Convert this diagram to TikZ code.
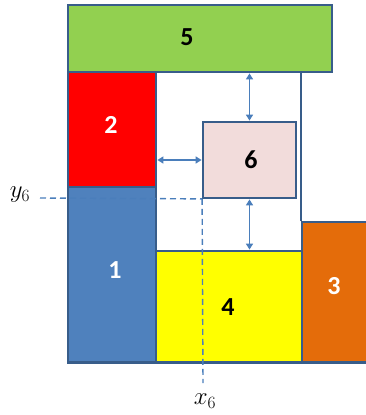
\documentclass[tikz,border=0pt]{standalone}
\usepackage{fontspec}
\newfontfamily\calib{Carlito}
\usetikzlibrary{arrows.meta}
\definecolor{cgreen}{HTML}{92D050}
\definecolor{cred}{HTML}{FF0000}
\definecolor{cblue}{HTML}{4F81BD}
\definecolor{cyellow}{HTML}{FFFF00}
\definecolor{corange}{HTML}{E46C0A}
\definecolor{cpink}{HTML}{F2DCDB}
\definecolor{cborder}{HTML}{385D8A}
\definecolor{carrow}{HTML}{4A7EBB}
\tikzset{
  blk/.style={draw=cborder, line width=1.8pt, inner sep=0pt},
  num/.style={font=\calib\bfseries\fontsize{26}{28}\selectfont, inner sep=0pt},
  dim/.style={draw=carrow, line width=1.6pt, {Triangle[length=6pt,width=7pt]}-{Triangle[length=6pt,width=7pt]}, shorten <=0.5pt, shorten >=0.5pt},
  guide/.style={draw=carrow, line width=1.4pt, dash pattern=on 6pt off 4pt},
  mlabel/.style={font=\fontsize{25}{26}\selectfont, inner sep=0pt}
}
\begin{document}
\begin{tikzpicture}[x=1pt,y=-1pt]
\useasboundingbox (0,0) rectangle (366,415);
\node[blk, fill=cgreen, minimum width=264pt, minimum height=67pt] (b5) at (200,38.5) {};
\node[num] (t5) at (187,37) {5};
\node[blk, fill=cred, minimum width=88pt, minimum height=115pt] (b2) at (112,129.5) {};
\node[num, text=white] (t2) at (111,125) {2};
\node[blk, fill=cblue, minimum width=88pt, minimum height=175pt] (b1) at (112,274.5) {};
\node[num, text=white] (t1) at (115,270) {1};
\node[blk, fill=cyellow, minimum width=146pt, minimum height=111pt] (b4) at (229,306.5) {};
\node[num] (t4) at (228,307) {4};
\node[blk, fill=corange, minimum width=72pt, minimum height=140pt] (b3) at (338,292) {};
\node[num, text=white] (t3) at (334,286) {3};
\node[blk, fill=cpink, minimum width=93pt, minimum height=76pt] (b6) at (249.5,160) {};
\node[num] (t6) at (251,160) {6};
% container outline
\draw[cborder, line width=1.8pt] (b3.north west) -- (b3.north west |- b5.south);
\draw[cborder, line width=1.8pt] (b1.south west) -- (b3.south east);
% dimension arrows
\draw[dim] (b6.north) -- (b6.north |- b5.south);
\draw[dim] (b6.west) -- (b6.west -| b2.east);
\draw[dim] (b6.south) -- (b6.south |- b4.north);
% guides
\coordinate (gy) at (40,198);
\coordinate (gx) at (203,383);
\draw[guide] (gy) -- (b6.south west);
\draw[guide] (b6.south west) -- (gx);
\node[mlabel] (ly) at (20,195) {$y_6$};
\node[mlabel] (lx) at (205,401) {$x_6$};
\end{tikzpicture}
\end{document}
